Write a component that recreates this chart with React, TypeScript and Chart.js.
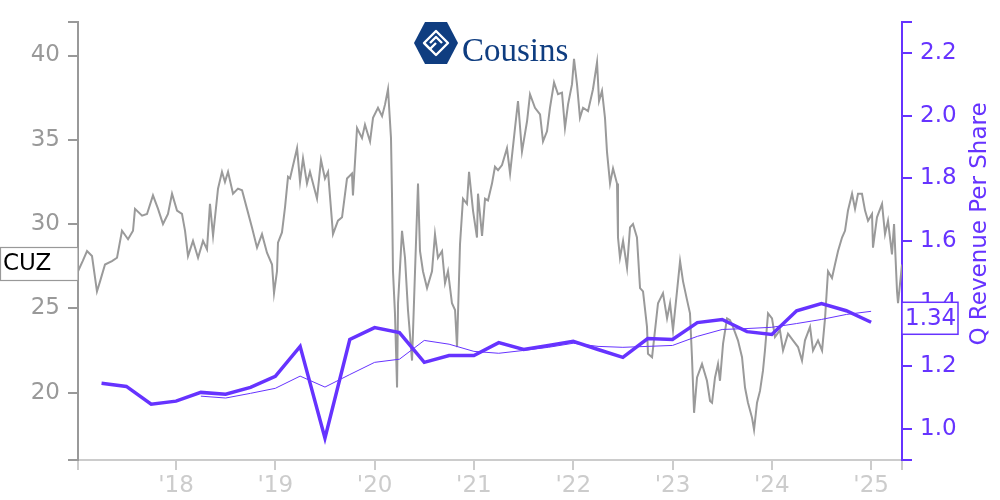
import React, { useEffect, useRef } from 'react';
import { Chart, registerables } from 'chart.js';

Chart.register(...registerables);

const ticker = 'CUZ';
const brandName = 'Cousins';
const rightAxisTitle = 'Q Revenue Per Share';

// decimal-year dates of the share price
const priceDates = [
  2017.013, 2017.06, 2017.104, 2017.154, 2017.204, 2017.235, 2017.285, 2017.355, 2017.406, 2017.456, 2017.517, 2017.567, 2017.587, 2017.658, 2017.708, 2017.768, 2017.819, 2017.869, 2017.919, 2017.960,
  2018.010, 2018.060, 2018.091, 2018.121, 2018.171, 2018.222, 2018.272, 2018.312, 2018.342, 2018.373, 2018.423, 2018.463, 2018.493, 2018.524, 2018.574, 2018.624, 2018.665, 2018.715, 2018.765, 2018.816, 2018.866, 2018.916, 2018.967, 2018.987,
  2019.017, 2019.027, 2019.067, 2019.098, 2019.128, 2019.148, 2019.219, 2019.249, 2019.279, 2019.319, 2019.349, 2019.420, 2019.460, 2019.500, 2019.531, 2019.581, 2019.631, 2019.672, 2019.722, 2019.772, 2019.782, 2019.823, 2019.873, 2019.903, 2019.954, 2019.984,
  2020.034, 2020.075, 2020.105, 2020.135, 2020.165, 2020.175, 2020.185, 2020.205, 2020.226, 2020.236, 2020.276, 2020.306, 2020.336, 2020.377, 2020.407, 2020.437, 2020.457, 2020.487, 2020.528, 2020.578, 2020.608, 2020.638, 2020.679, 2020.709, 2020.739, 2020.779, 2020.810, 2020.830, 2020.860, 2020.890, 2020.930, 2020.951, 2020.991,
  2021.031, 2021.041, 2021.082, 2021.112, 2021.142, 2021.182, 2021.212, 2021.243, 2021.283, 2021.333, 2021.364, 2021.414, 2021.444, 2021.484, 2021.535, 2021.565, 2021.615, 2021.666, 2021.696, 2021.736, 2021.766, 2021.807, 2021.847, 2021.887, 2021.917, 2021.948, 2021.988,
  2022.008, 2022.038, 2022.068, 2022.099, 2022.149, 2022.199, 2022.240, 2022.260, 2022.290, 2022.320, 2022.340, 2022.371, 2022.401, 2022.441, 2022.451, 2022.471, 2022.502, 2022.542, 2022.572, 2022.602, 2022.642, 2022.673, 2022.703, 2022.743, 2022.753, 2022.794, 2022.824, 2022.854, 2022.904, 2022.945, 2022.975,
  2023.005, 2023.045, 2023.076, 2023.106, 2023.146, 2023.176, 2023.196, 2023.217, 2023.247, 2023.297, 2023.347, 2023.378, 2023.398, 2023.428, 2023.458, 2023.478, 2023.509, 2023.549, 2023.579, 2023.609, 2023.659, 2023.700, 2023.730, 2023.760, 2023.801, 2023.821, 2023.851, 2023.881, 2023.911, 2023.931, 2023.962,
  2024.002, 2024.032, 2024.082, 2024.113, 2024.163, 2024.213, 2024.264, 2024.304, 2024.334, 2024.385, 2024.415, 2024.465, 2024.506, 2024.536, 2024.566, 2024.606, 2024.636, 2024.667, 2024.707, 2024.737, 2024.767, 2024.808, 2024.838, 2024.868, 2024.908, 2024.939, 2024.969,
  2025.009, 2025.019, 2025.059, 2025.110, 2025.140, 2025.170, 2025.210, 2025.231, 2025.261, 2025.271, 2025.311,
];

const priceValues = [
  27.2, 27.8, 28.4, 28.1, 26.0, 26.6, 27.6, 27.8, 28.0, 29.6, 29.1, 29.6, 30.9, 30.5, 30.6, 31.7, 30.9, 30.0, 30.6, 31.8,
  30.8, 30.6, 29.6, 28.1, 29.0, 28.0, 29.0, 28.5, 31.2, 29.3, 32.1, 33.1, 32.5, 33.1, 31.8, 32.1, 32.0, 30.9, 29.8, 28.6, 29.4, 28.3, 27.6, 25.9,
  27.2, 28.9, 29.5, 31.0, 32.8, 32.7, 34.5, 32.5, 33.9, 32.4, 33.1, 31.5, 33.8, 32.7, 33.1, 29.4, 30.2, 30.4, 32.7, 33.0, 31.7, 35.7, 35.1, 35.9, 34.9, 36.3,
  36.9, 36.4, 37.1, 38.0, 35.1, 31.8, 27.2, 24.7, 20.3, 25.3, 29.6, 28.0, 24.9, 21.9, 27.2, 32.4, 28.4, 27.2, 26.2, 27.2, 29.4, 28.0, 28.4, 26.5, 27.2, 25.3, 24.9, 22.7, 28.8, 31.5, 31.2, 33.1, 30.8,
  29.2, 31.8, 29.3, 31.5, 31.4, 32.4, 33.4, 33.2, 33.5, 34.5, 33.0, 35.7, 37.3, 34.3, 36.1, 37.7, 36.9, 36.5, 34.9, 35.5, 36.9, 38.4, 37.7, 37.8, 35.7, 37.1, 38.3,
  39.8, 38.3, 36.3, 36.9, 36.7, 38.0, 39.6, 37.3, 37.9, 36.3, 34.3, 32.4, 33.3, 32.4, 29.2, 28.0, 29.0, 27.4, 29.8, 30.0, 29.2, 26.2, 26.0, 23.9, 22.3, 22.1, 23.7, 25.3, 25.9, 24.4, 25.3,
  23.7, 26.0, 27.8, 26.6, 25.5, 24.7, 22.1, 18.8, 20.9, 21.7, 20.7, 19.5, 19.4, 20.9, 21.7, 20.7, 22.9, 24.4, 24.3, 23.9, 23.1, 22.1, 20.3, 19.4, 18.5, 17.8, 19.4, 20.1, 21.3, 22.5, 24.7,
  24.4, 23.3, 23.7, 22.5, 23.5, 23.1, 22.7, 21.9, 23.1, 23.9, 22.5, 23.1, 22.5, 24.4, 27.2, 26.8, 27.6, 28.4, 29.2, 29.6, 30.8, 31.8, 30.9, 31.8, 31.8, 30.8, 30.2,
  30.6, 28.6, 30.4, 31.2, 29.4, 30.2, 28.2, 30.0, 26.0, 25.3, 27.6,
];

// quarterly revenue per share (quarter ends as decimal years)
const revDates = [
  2017.25, 2017.5, 2017.75, 2018.0, 2018.25, 2018.5, 2018.75, 2019.0,
  2019.25, 2019.5, 2019.75, 2020.0, 2020.25, 2020.5, 2020.75, 2021.0,
  2021.25, 2021.5, 2021.75, 2022.0, 2022.25, 2022.5, 2022.75, 2023.0,
  2023.25, 2023.5, 2023.75, 2024.0, 2024.25, 2024.5, 2024.75, 2025.0,
];
const revValues = [
  1.145, 1.135, 1.078, 1.088, 1.116, 1.110, 1.132, 1.167,
  1.263, 0.970, 1.285, 1.323, 1.307, 1.212, 1.234, 1.234,
  1.275, 1.253, 1.266, 1.279, 1.253, 1.228, 1.288, 1.285,
  1.339, 1.349, 1.310, 1.301, 1.377, 1.400, 1.377, 1.34,
];

// trailing four-quarter average
const revAvgDates = [
  2018.25, 2018.5, 2018.75, 2019.0, 2019.25, 2019.5, 2019.75,
  2020.0, 2020.25, 2020.5, 2020.75, 2021.0, 2021.25, 2021.5, 2021.75,
  2022.0, 2022.25, 2022.5, 2022.75, 2023.0, 2023.25, 2023.5, 2023.75,
  2024.0, 2024.25, 2024.5, 2024.75, 2025.0,
];
const revAvgValues = [
  1.104, 1.098, 1.113, 1.129, 1.168, 1.133, 1.173,
  1.212, 1.222, 1.282, 1.270, 1.247, 1.241, 1.250, 1.260,
  1.273, 1.263, 1.260, 1.263, 1.266, 1.295, 1.317, 1.320,
  1.324, 1.336, 1.349, 1.365, 1.375,
];

const yearTicks = [2018, 2019, 2020, 2021, 2022, 2023, 2024, 2025];
const leftTicks = [20, 25, 30, 35, 40];
const rightTicks = [1.0, 1.2, 1.4, 1.6, 1.8, 2.0, 2.2];

const PURPLE = '#6633ff';
const GRAY = '#999999';
const LIGHT = '#cccccc';
const NAVY = '#0f3d80';
const FONT = 'DejaVu Sans';

const annotate = {
  id: 'annotate',
  afterDraw(chart: any) {
    const ctx = chart.ctx as CanvasRenderingContext2D;
    const yL = chart.scales.y;
    const yR = chart.scales.y1;
    const area = chart.chartArea;
    ctx.save();

    // ticker box on left axis
    const lastPrice = priceValues[priceValues.length - 1];
    const py = yL.getPixelForValue(lastPrice);
    ctx.fillStyle = '#ffffff';
    ctx.fillRect(0.5, py - 17, area.left - 0.5, 33);
    ctx.strokeStyle = GRAY;
    ctx.lineWidth = 1.2;
    ctx.strokeRect(0.5, py - 17, area.left - 0.5, 33);
    ctx.fillStyle = '#000000';
    ctx.font = `23px "${FONT}"`;
    ctx.textAlign = 'left';
    ctx.textBaseline = 'middle';
    ctx.fillText(ticker, 3, py);

    // last value box on right axis
    const lastRev = revValues[revValues.length - 1];
    const ry = yR.getPixelForValue(lastRev) - 4;
    ctx.fillStyle = '#ffffff';
    ctx.fillRect(area.right, ry - 16, 56, 32);
    ctx.strokeStyle = PURPLE;
    ctx.lineWidth = 1.5;
    ctx.strokeRect(area.right, ry - 16, 56, 32);
    ctx.fillStyle = PURPLE;
    ctx.fillText(lastRev.toFixed(2), area.right + 3, ry + 1);

    // right axis title (reads bottom to top)
    ctx.save();
    ctx.translate(980, 224);
    ctx.rotate(-Math.PI / 2);
    ctx.textAlign = 'center';
    ctx.textBaseline = 'middle';
    ctx.fillStyle = PURPLE;
    ctx.fillText(rightAxisTitle, 0, 0);
    ctx.restore();

    // logo
    ctx.fillStyle = NAVY;
    ctx.beginPath();
    ctx.moveTo(414, 43);
    ctx.lineTo(425, 22);
    ctx.lineTo(447, 22);
    ctx.lineTo(458, 43);
    ctx.lineTo(447, 64);
    ctx.lineTo(425, 64);
    ctx.closePath();
    ctx.fill();
    ctx.strokeStyle = '#ffffff';
    ctx.lineWidth = 2.4;
    ctx.lineJoin = 'round';
    ctx.beginPath();
    ctx.moveTo(436, 31);
    ctx.lineTo(448, 43);
    ctx.lineTo(436, 55);
    ctx.lineTo(424, 43);
    ctx.closePath();
    ctx.stroke();
    ctx.beginPath();
    ctx.moveTo(430, 43);
    ctx.lineTo(436, 37);
    ctx.lineTo(442, 43);
    ctx.moveTo(424, 43);
    ctx.lineTo(430, 49);
    ctx.lineTo(436, 43);
    ctx.stroke();

    ctx.fillStyle = NAVY;
    ctx.font = '33px "Liberation Serif"';
    ctx.textAlign = 'left';
    ctx.textBaseline = 'alphabetic';
    ctx.fillText(brandName, 462, 61);

    ctx.restore();
  },
};

export default function App() {
  const canvasRef = useRef<HTMLCanvasElement | null>(null);

  useEffect(() => {
    const canvas = canvasRef.current;
    if (!canvas) return;
    Chart.defaults.font.family = FONT;

    const price = priceDates.map((d, i) => ({ x: d, y: priceValues[i] }));
    const rev = revDates.map((d, i) => ({ x: d, y: revValues[i] }));
    const revAvg = revAvgDates.map((d, i) => ({ x: d, y: revAvgValues[i] }));

    const xMin = priceDates[0];
    const xMax = priceDates[priceDates.length - 1];

    const chart = new Chart(canvas, {
      type: 'line',
      data: {
        datasets: [
          {
            data: rev,
            yAxisID: 'y1',
            borderColor: PURPLE,
            borderWidth: 3.5,
            pointRadius: 0,
            tension: 0,
            order: 0,
          },
          {
            data: revAvg,
            yAxisID: 'y1',
            borderColor: PURPLE,
            borderWidth: 1,
            pointRadius: 0,
            tension: 0,
            order: 1,
          },
          {
            data: price,
            yAxisID: 'y',
            borderColor: '#9a9a9a',
            borderWidth: 2,
            pointRadius: 0,
            tension: 0,
            order: 2,
          },
        ],
      },
      options: {
        responsive: false,
        animation: false,
        events: [],
        layout: { padding: { top: 20, left: 0, right: 0, bottom: 0 } },
        plugins: { legend: { display: false }, tooltip: { enabled: false } },
        scales: {
          x: {
            type: 'linear',
            position: 'bottom',
            min: xMin,
            max: xMax,
            afterBuildTicks: (s: any) => {
              s.ticks = [s.min, ...yearTicks, s.max].map((v) => ({ value: v }));
            },
            afterFit: (s: any) => {
              s.height = 40;
            },
            ticks: {
              autoSkip: false,
              maxRotation: 0,
              color: LIGHT,
              font: { size: 23 },
              padding: 2,
              callback: (v: any) => (Number.isInteger(v) ? "'" + String(v).slice(2) : ''),
            },
            grid: { drawOnChartArea: false, drawTicks: true, tickLength: 10, color: LIGHT, lineWidth: 2 },
            border: { display: true, color: LIGHT, width: 2 },
          },
          y: {
            type: 'linear',
            position: 'left',
            min: 16,
            max: 42,
            afterBuildTicks: (s: any) => {
              s.ticks = [s.min, ...leftTicks, s.max].map((v) => ({ value: v }));
            },
            afterFit: (s: any) => {
              s.width = 78;
            },
            ticks: {
              color: GRAY,
              font: { size: 23 },
              padding: 8,
              callback: (v: any) => (leftTicks.includes(v) ? String(v) : ''),
            },
            grid: { drawOnChartArea: false, drawTicks: true, tickLength: 10, color: GRAY, lineWidth: 2 },
            border: { display: true, color: GRAY, width: 2 },
          },
          y1: {
            type: 'linear',
            position: 'right',
            min: 0.9,
            max: 2.3,
            afterBuildTicks: (s: any) => {
              s.ticks = [s.min, ...rightTicks, s.max].map((v) => ({ value: v }));
            },
            afterFit: (s: any) => {
              s.width = 98;
            },
            ticks: {
              color: PURPLE,
              font: { size: 23 },
              padding: 8,
              callback: (v: any) => (rightTicks.some((t) => Math.abs(t - v) < 1e-9) ? Number(v).toFixed(1) : ''),
            },
            grid: { drawOnChartArea: false, drawTicks: true, tickLength: 10, color: PURPLE, lineWidth: 2 },
            border: { display: true, color: PURPLE, width: 2 },
          },
        },
      },
      plugins: [annotate],
    } as any);

    return () => {
      chart.destroy();
    };
  }, []);

  return (
    <div style={{ position: 'absolute', left: 0, top: 0, width: 1000, height: 500, background: '#ffffff' }}>
      <canvas ref={canvasRef} width={1000} height={500} style={{ display: 'block', width: 1000, height: 500 }} />
    </div>
  );
}
